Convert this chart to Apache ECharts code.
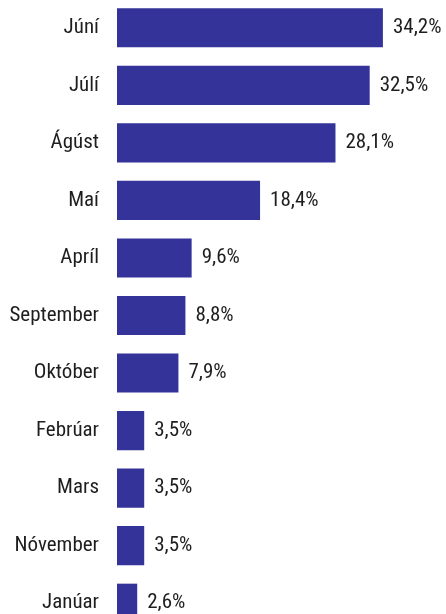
<!DOCTYPE html>
<html>
<head>
<meta charset="utf-8">
<script src="https://cdn.jsdelivr.net/npm/echarts@6/dist/echarts.min.js"></script>
<style>
html,body{margin:0;padding:0;background:#fff;overflow:hidden;}
#chart{width:446px;height:633px;position:absolute;left:0;top:-1px;}
</style>
</head>
<body>
<div id="chart"></div>
<script>
// mánuðir, efst til neðst
var months=["Júní","Júlí","Ágúst","Maí","Apríl","September","Október","Febrúar","Mars","Nóvember","Janúar"];
var shares=[34.2,32.5,28.1,18.4,9.6,8.8,7.9,3.5,3.5,3.5,2.6];

var font='"Roboto Condensed","Liberation Sans Narrow","Arial Narrow",sans-serif';

var myChart=echarts.init(document.getElementById("chart"));
var option={
    backgroundColor:'#fff',
    animation:false,
    grid:{left:117,right:18,top:0,bottom:0,containLabel:false},
    xAxis:{
        type:'value',
        min:0,
        max:40,
        show:false
    },
    yAxis:{
        type:'category',
        data:months,
        inverse:true,
        axisLine:{show:false},
        axisTick:{show:false},
        axisLabel:{
            margin:18,
            color:'#1e1e1e',
            fontSize:21,
            fontFamily:font
        }
    },
    series:[{
        type:'bar',
        data:shares,
        barCategoryGap:'32%',
        itemStyle:{color:'#333399'},
        label:{
            show:true,
            position:'right',
            distance:10,
            color:'#1e1e1e',
            fontSize:21,
            fontFamily:font,
            formatter:function(p){
                return p.value.toFixed(1).replace('.',',')+'%';
            }
        }
    }]
};
myChart.setOption(option);
</script>
</body>
</html>
